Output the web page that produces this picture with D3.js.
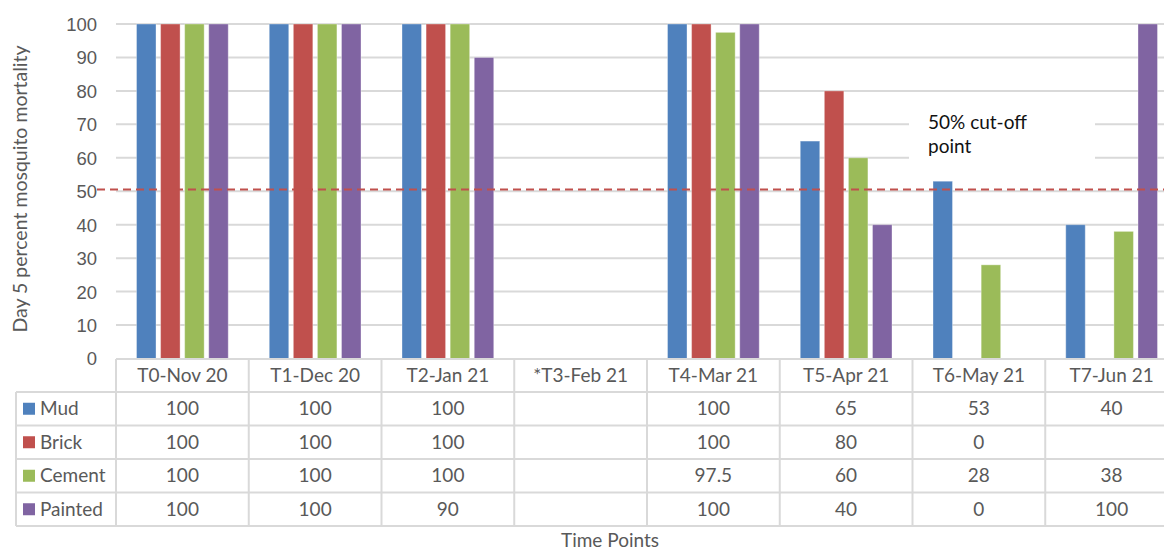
<!DOCTYPE html>
<html>
<head>
<meta charset="utf-8">
<script src="https://cdn.jsdelivr.net/npm/d3@7"></script>
<style>
  html, body { margin: 0; padding: 0; background: #fff; }
  svg { display: block; font-family: Lato, "Open Sans", sans-serif; }
</style>
</head>
<body>
<svg id="chart" width="1164" height="551"></svg>
<script>
// ---- data ----
const categories = ["T0-Nov 20", "T1-Dec 20", "T2-Jan 21", "*T3-Feb 21", "T4-Mar 21", "T5-Apr 21", "T6-May 21", "T7-Jun 21"];
const seriesNames = ["Mud", "Brick", "Cement", "Painted"];
const mud     = [100, 100, 100, null, 100, 65, 53, 40];
const brick   = [100, 100, 100, null, 100, 80, 0, null];
const cement  = [100, 100, 100, null, 97.5, 60, 28, 38];
const painted = [100, 100, 90, null, 100, 40, 0, 100];
const seriesValues = [mud, brick, cement, painted];
const seriesColors = ["#4F81BD", "#C0504D", "#9BBB59", "#8064A2"];
const yTicks = [0, 10, 20, 30, 40, 50, 60, 70, 80, 90, 100];
const cutoff = 50.5;
const yTitle = "Day 5 percent mosquito mortality";
const xTitle = "Time Points";
const annotationLines = ["50% cut-off", "point"];

// ---- layout ----
const svg = d3.select("#chart");
const plotLeft = 116, plotRight = 1178, plotTop = 24, plotBottom = 358.5;
const tableLeft = 16;
const rowTops = [359, 392, 425.5, 459, 492.5, 526];
const textColor = "#595959";
const gridColor = "#d9d9d9";
const tableFont = "19px";

const x0 = d3.scaleBand().domain(categories).range([plotLeft, plotRight]).padding(0);
const catW = x0.bandwidth();
const x1 = d3.scaleBand().domain(seriesNames).range([20.5, catW - 20.5]).paddingInner(0.19).paddingOuter(0);
const y = d3.scaleLinear().domain([0, 100]).range([plotBottom, plotTop]);

// gridlines
svg.append("g").selectAll("line").data(yTicks.filter(t => t > 0)).join("line")
  .attr("x1", plotLeft).attr("x2", 1164)
  .attr("y1", d => y(d)).attr("y2", d => y(d))
  .attr("stroke", gridColor).attr("stroke-width", 2);

// y tick labels via axis
const yAxis = d3.axisLeft(y).tickValues(yTicks).tickSize(0).tickPadding(0);
const yg = svg.append("g").attr("transform", `translate(97,0)`).call(yAxis);
yg.select(".domain").remove();
yg.selectAll("text").attr("fill", textColor).style("font-size", "18.5px").attr("dy", "0.35em");

// bars
const barData = [];
seriesNames.forEach((s, si) => {
  categories.forEach((c, ci) => {
    const v = seriesValues[si][ci];
    if (v !== null) barData.push({ s, c, v, color: seriesColors[si] });
  });
});
svg.append("g").selectAll("rect").data(barData).join("rect")
  .attr("x", d => x0(d.c) + x1(d.s))
  .attr("width", x1.bandwidth())
  .attr("y", d => y(d.v))
  .attr("height", d => y(0) - y(d.v))
  .attr("fill", d => d.color)
  .attr("stroke", "rgba(255,255,255,0.35)")
  .attr("stroke-width", 1);

// annotation box
svg.append("rect").attr("x", 909).attr("y", 108).attr("width", 186).attr("height", 56).attr("fill", "#fff");
svg.append("text").attr("x", 928).attr("y", 129).attr("fill", "#111").style("font-size", "19px").text(annotationLines[0]);
svg.append("text").attr("x", 928).attr("y", 153).attr("fill", "#111").style("font-size", "19px").text(annotationLines[1]);

// cut-off line
svg.append("line")
  .attr("x1", 97).attr("x2", 1164)
  .attr("y1", y(cutoff)).attr("y2", y(cutoff))
  .attr("stroke", "#C0504D").attr("stroke-width", 2).attr("stroke-dasharray", "8,5");

// ---- data table ----
const tg = svg.append("g");
tg.append("line").attr("x1", plotLeft).attr("x2", 1164).attr("y1", rowTops[0]).attr("y2", rowTops[0])
  .attr("stroke", gridColor).attr("stroke-width", 2);
tg.selectAll("line.h").data(rowTops.slice(1)).join("line").attr("class", "h")
  .attr("x1", tableLeft).attr("x2", 1164).attr("y1", d => d).attr("y2", d => d)
  .attr("stroke", gridColor).attr("stroke-width", 2);
tg.append("line").attr("x1", tableLeft).attr("x2", tableLeft).attr("y1", rowTops[1]).attr("y2", rowTops[5])
  .attr("stroke", gridColor).attr("stroke-width", 2);
tg.selectAll("line.v").data(categories).join("line").attr("class", "v")
  .attr("x1", d => x0(d)).attr("x2", d => x0(d)).attr("y1", rowTops[0]).attr("y2", rowTops[5])
  .attr("stroke", gridColor).attr("stroke-width", 2);

tg.selectAll("text.hdr").data(categories).join("text").attr("class", "hdr")
  .attr("x", d => x0(d) + catW / 2).attr("y", (rowTops[0] + rowTops[1]) / 2)
  .attr("text-anchor", "middle").attr("dy", "0.35em")
  .attr("fill", textColor).style("font-size", tableFont).text(d => d);

seriesNames.forEach((s, si) => {
  const cy = (rowTops[si + 1] + rowTops[si + 2]) / 2;
  tg.append("rect").attr("x", 23).attr("y", cy - 6).attr("width", 12).attr("height", 12).attr("fill", seriesColors[si]);
  tg.append("text").attr("x", 40).attr("y", cy).attr("dy", "0.35em")
    .attr("fill", textColor).style("font-size", tableFont).text(s);
  tg.selectAll(null).data(categories).join("text")
    .attr("x", d => x0(d) + catW / 2).attr("y", cy).attr("dy", "0.35em")
    .attr("text-anchor", "middle").attr("fill", textColor).style("font-size", tableFont)
    .text((d, ci) => seriesValues[si][ci] === null ? "" : seriesValues[si][ci]);
});

// axis titles
svg.append("text").attr("x", 610).attr("y", 547).attr("text-anchor", "middle")
  .attr("fill", textColor).style("font-size", "19px").text(xTitle);
svg.append("text").attr("transform", "translate(27,189) rotate(-90)").attr("text-anchor", "middle")
  .attr("fill", textColor).style("font-size", "19.5px").text(yTitle);
</script>
</body>
</html>
